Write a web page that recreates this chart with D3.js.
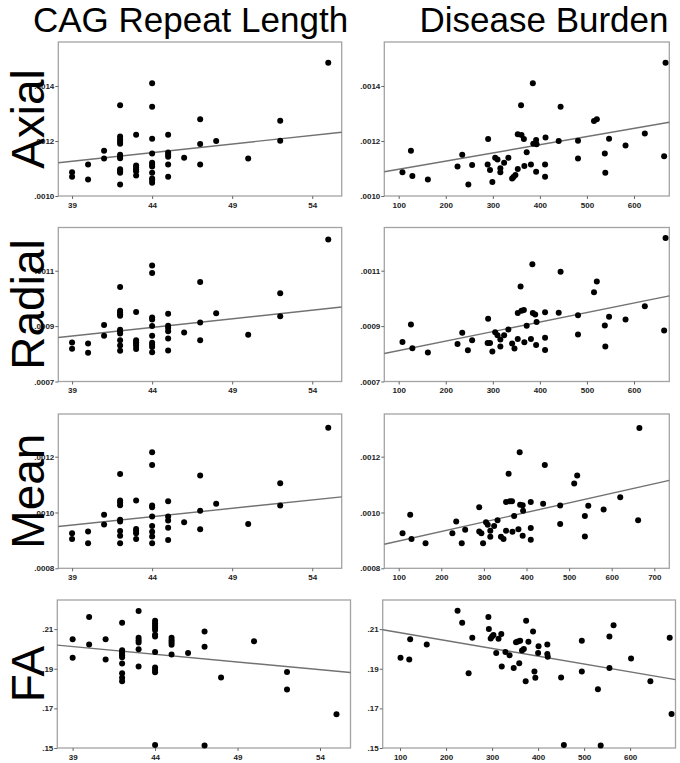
<!DOCTYPE html>
<meta charset="utf-8">
<script src="https://d3js.org/d3.v7.min.js"></script>
<style>
  body { margin: 0; background: #fff; }
  svg { display: block; }
</style>
<div id="chart"></div>
<script>

// column titles and row labels
var colTitles = ["CAG Repeat Length", "Disease Burden"];
var rowLabels = ["Axial", "Radial", "Mean", "FA"];

// tick values
var cagTicks = [39, 44, 49, 54];
var burdenTicks = [100, 200, 300, 400, 500, 600];
var burdenTicksMean = [100, 200, 300, 400, 500, 600, 700];
var axialTicks = [0.0010, 0.0012, 0.0014];
var radialTicks = [0.0007, 0.0009, 0.0011];
var meanTicks = [0.0008, 0.0010, 0.0012];
var faTicks = [0.15, 0.17, 0.19, 0.21];

// scatter data [x, y]
var axialCag = [[39,.001086],[39,.00107],[40,.001115],[40,.00106],[41,.001165],[41,.001136],
  [42,.00133],[42,.001216],[42,.001206],[42,.001198],[42,.00119],[42,.00115],[42,.001143],[42,.001137],
  [42,.001097],[42,.00109],[42,.001085],[42,.001042],
  [43,.001223],[43,.001111],[43,.001104],[43,.001097],[43,.00109],[43,.001075],
  [44,.00141],[44,.001325],[44,.001208],[44,.001155],[44,.001121],[44,.001114],[44,.001107],[44,.001085],
  [44,.001064],[44,.001058],[44,.001048],
  [45,.001223],[45,.001158],[45,.00115],[45,.001143],[45,.001115],[45,.00107],
  [46,.001139],[47,.001279],[47,.001189],[47,.001115],[48,.0012],[50,.001136],[52,.001274],[52,.001201],[55,.001485]];

var axialBurden = [[108,.001086],[126,.001165],[129,.001073],[162,.00106],[225,.001107],[235,.00115],
  [248,.001042],[256,.001113],[289,.001115],[290,.001207],[294,.001095],[299,.001051],[305,.001139],
  [310,.001133],[316,.001101],[316,.001086],[324,.001121],[333,.001139],[341,.001064],[344,.001069],
  [348,.001076],[353,.001098],[353,.001225],[360,.00133],[361,.001222],[366,.001207],[367,.001109],
  [372,.001159],[381,.001115],[385,.00141],[386,.00119],[392,.001204],[393,.001188],[392,.001088],
  [411,.001115],[412,.001213],[411,.00107],[440,.0012],[444,.001325],[481,.001201],[481,.001136],
  [515,.001273],[521,.001279],[538,.001155],[539,.001085],[547,.001208],[582,.001184],[623,.001227],
  [664,.001145],[667,.001485]];

var radialCag = [[39,.000841],[39,.000818],[40,.000837],[40,.000804],[41,.000904],[41,.000865],
  [42,.001041],[42,.000955],[42,.000949],[42,.000943],[42,.000937],[42,.000887],[42,.000881],[42,.000873],
  [42,.000849],[42,.00083],[42,.000811],
  [43,.000951],[43,.000849],[43,.000842],[43,.000835],[43,.000828],[43,.000817],
  [44,.001119],[44,.001092],[44,.000931],[44,.000924],[44,.0009],[44,.000865],[44,.00084],[44,.000833],
  [44,.000825],[44,.000806],
  [45,.000945],[45,.000901],[45,.000893],[45,.000881],[45,.000855],[45,.000812],
  [46,.000877],[47,.001059],[47,.000913],[47,.000849],[48,.000946],[50,.000869],[52,.001019],[52,.000936],[55,.001213]];

var radialBurden = [[108,.000843],[126,.000906],[129,.00082],[162,.000805],[225,.000835],[235,.000876],
  [247,.000813],[256,.000849],[290,.000927],[289,.000839],[294,.000839],[299,.000808],[305,.000878],
  [310,.000867],[316,.000852],[316,.000826],[324,.000867],[333,.000888],[341,.000837],[346,.000819],
  [353,.000947],[353,.000853],[359,.001043],[361,.000955],[366,.000958],[367,.000842],[372,.000901],
  [381,.000853],[384,.001123],[385,.000947],[390,.000942],[393,.000915],[392,.000832],[411,.00095],
  [411,.000858],[411,.000814],[440,.000948],[444,.001096],[481,.000939],[481,.00087],[515,.001022],
  [521,.001061],[538,.000902],[539,.000826],[547,.000934],[582,.000924],[623,.000972],[664,.000884],
  [667,.001218]];

var meanCag = [[39,.000926],[39,.000905],[40,.000932],[40,.00089],[41,.000992],[41,.000957],
  [42,.001138],[42,.001043],[42,.001036],[42,.001026],[42,.000974],[42,.000968],[42,.000934],[42,.000917],[42,.00089],
  [43,.001043],[43,.000941],[43,.000934],[43,.000926],[43,.000905],
  [44,.001216],[44,.00117],[44,.001025],[44,.001019],[44,.000986],[44,.000952],[44,.000931],[44,.000914],[44,.00089],
  [45,.00104],[45,.000986],[45,.000971],[45,.000945],[45,.000901],
  [46,.000965],[47,.001133],[47,.001006],[47,.00094],[48,.001031],[50,.000959],[52,.001105],[52,.001025],[55,.001304]];

var meanBurden = [[109,.000926],[127,.000992],[130,.000905],[163,.00089],[226,.000926],[235,.000968],
  [248,.00089],[256,.000938],[289,.001019],[289,.000932],[294,.000926],[298,.00089],[305,.000965],
  [309,.000956],[315,.000935],[315,.000913],[324,.000952],[332,.000972],[340,.000913],[346,.000905],
  [352,.000935],[352,.001038],[358,.001139],[361,.00104],[366,.00104],[367,.000931],[371,.000987],
  [381,.00094],[384,.001216],[385,.001028],[391,.001026],[392,.001006],[391,.000917],[410,.001038],
  [410,.000944],[410,.000902],[439,.001031],[443,.00117],[479,.001025],[479,.000959],[512,.001104],
  [519,.001133],[537,.000987],[537,.000914],[545,.001024],[581,.001011],[620,.001055],[662,.000972],
  [665,.001303]];

var faCag = [[39,.2049],[39,.1955],[40,.2161],[40,.2022],[41,.2049],[41,.1947],
  [42,.2132],[42,.1994],[42,.1985],[42,.1977],[42,.1968],[42,.1958],[42,.1926],[42,.1877],[42,.1854],[42,.1837],
  [43,.2191],[43,.2056],[43,.2044],[43,.2032],[43,.1999],[43,.1911],
  [44,.2142],[44,.213],[44,.2118],[44,.2107],[44,.2095],[44,.2071],[44,.2063],[44,.1985],[44,.1906],
  [44,.1894],[44,.1882],[44,.1515],
  [45,.2056],[45,.2044],[45,.2032],[45,.2021],[45,.1972],
  [46,.1979],[47,.2088],[47,.2011],[47,.1512],[48,.1856],[50,.2039],[52,.1884],[52,.1795],[55,.167]];

var faBurden = [[101,.1955],[120,.1947],[122,.2049],[158,.2022],[225,.2193],[235,.2132],[249,.1877],
  [257,.2056],[292,.2161],[293,.21],[297,.2053],[300,.2063],[303,.207],[309,.1979],[314,.2051],
  [320,.2076],[321,.1911],[329,.1985],[338,.1968],[347,.1904],[352,.2034],[356,.2038],[361,.2041],
  [359,.1928],[365,.1992],[369,.2],[373,.1837],[374,.2142],[379,.2036],[389,.2088],[392,.1886],
  [394,.1854],[400,.1979],[401,.2014],[420,.2022],[420,.1974],[421,.196],[450,.1856],[456,.1515],
  [495,.2041],[495,.1886],[530,.1797],[536,.1512],[555,.1904],[555,.2063],[564,.212],[602,.1952],
  [644,.1837],[686,.2056],[690,.1672]];

// fitted lines, [[x0, y0], [x1, y1]] at the frame edges
var axialCagFit = [[38.14, .001121], [55.84, .001232]];
var axialBurdenFit = [[69.4, .001088], [675, .001268]];
var radialCagFit = [[38.14, .000859], [55.84, .000969]];
var radialBurdenFit = [[69.4, .000801], [675, .001009]];
var meanCagFit = [[38.14, .00095], [55.84, .001056]];
var meanBurdenFit = [[66.2, .000886], [735.2, .001115]];
var faCagFit = [[38.07, .2019], [55.85, .1881]];
var faBurdenFit = [[62.3, .2097], [698.6, .1845]];

var width = 680, height = 763;

var svg = d3.select("#chart")
  .append("svg")
    .attr("width", width)
    .attr("height", height);

svg.append("rect").attr("width", width).attr("height", height).attr("fill", "#fff");

// frame layout of each row
var rows = [
  {top: 42, bottom: 196, yTicks: axialTicks, yDomain: [0.0010, 0.00156], fmt: ".4f"},
  {top: 227.5, bottom: 381.5, yTicks: radialTicks, yDomain: [0.0007, 0.001256], fmt: ".4f"},
  {top: 414, bottom: 568.3, yTicks: meanTicks, yDomain: [0.0008, 0.001353], fmt: ".4f"},
  {top: 600, bottom: 748, yTicks: faTicks, yDomain: [0.15, 0.2247], fmt: ".2f"}
];

var panels = [
  {row: 0, x0: 58.3, x1: 341.7, xDomain: [38.14, 55.84], xTicks: cagTicks, data: axialCag, fit: axialCagFit},
  {row: 0, x0: 384.3, x1: 669.3, xDomain: [69.4, 675], xTicks: burdenTicks, data: axialBurden, fit: axialBurdenFit},
  {row: 1, x0: 58.3, x1: 341.7, xDomain: [38.14, 55.84], xTicks: cagTicks, data: radialCag, fit: radialCagFit},
  {row: 1, x0: 384.3, x1: 669.3, xDomain: [69.4, 675], xTicks: burdenTicks, data: radialBurden, fit: radialBurdenFit},
  {row: 2, x0: 58.3, x1: 341.7, xDomain: [38.14, 55.84], xTicks: cagTicks, data: meanCag, fit: meanCagFit},
  {row: 2, x0: 384.3, x1: 669.3, xDomain: [66.2, 735.2], xTicks: burdenTicksMean, data: meanBurden, fit: meanBurdenFit},
  {row: 3, x0: 57.3, x1: 350.5, xDomain: [38.07, 55.85], xTicks: cagTicks, data: faCag, fit: faCagFit},
  {row: 3, x0: 382.7, x1: 675.5, xDomain: [62.3, 698.6], xTicks: burdenTicks, data: faBurden, fit: faBurdenFit}
];

var tickFont = "'Liberation Sans', Arial, sans-serif";

panels.forEach(function(p) {
  var r = rows[p.row];
  var x = d3.scaleLinear().domain(p.xDomain).range([p.x0, p.x1]);
  var y = d3.scaleLinear().domain(r.yDomain).range([r.bottom, r.top]);
  var g = svg.append("g");

  // frame
  g.append("rect")
    .attr("x", p.x0).attr("y", r.top)
    .attr("width", p.x1 - p.x0).attr("height", r.bottom - r.top)
    .attr("fill", "#fff")
    .attr("stroke", "#a3a3a3")
    .attr("stroke-width", 1.3);

  var fmt = d3.format(r.fmt);

  // Y axis
  var yAxis = g.append("g")
    .attr("transform", "translate(" + p.x0 + ",0)")
    .call(d3.axisLeft(y).tickValues(r.yTicks).tickSize(3).tickPadding(1)
      .tickFormat(function(d) { return fmt(d).replace(/^0/, ""); }));

  // X axis
  var xAxis = g.append("g")
    .attr("transform", "translate(0," + r.bottom + ")")
    .call(d3.axisBottom(x).tickValues(p.xTicks).tickSize(3).tickPadding(3)
      .tickFormat(d3.format("d")));

  [yAxis, xAxis].forEach(function(a) {
    a.select(".domain").remove();
    a.selectAll(".tick line").attr("stroke", "#666");
    a.selectAll(".tick text")
      .attr("fill", "#222")
      .style("font-family", tickFont)
      .style("font-weight", "bold")
      .style("font-size", "8px");
  });

  // fit line
  g.append("line")
    .attr("x1", x(p.fit[0][0])).attr("y1", y(p.fit[0][1]))
    .attr("x2", x(p.fit[1][0])).attr("y2", y(p.fit[1][1]))
    .attr("stroke", "#727272")
    .attr("stroke-width", 1.4);

  // points
  g.selectAll("circle")
    .data(p.data)
    .enter()
    .append("circle")
      .attr("cx", function(d) { return x(d[0]); })
      .attr("cy", function(d) { return y(d[1]); })
      .attr("r", 3)
      .attr("fill", "#000");
});

// column titles
svg.selectAll(".colTitle")
  .data(colTitles)
  .enter()
  .append("text")
    .attr("class", "colTitle")
    .attr("x", function(d, i) { return i === 0 ? 190.5 : 544; })
    .attr("y", 32)
    .attr("text-anchor", "middle")
    .style("font-family", tickFont)
    .style("font-size", "35px")
    .attr("fill", "#000")
    .text(function(d) { return d; });

// row labels
svg.selectAll(".rowLabel")
  .data(rowLabels)
  .enter()
  .append("text")
    .attr("class", "rowLabel")
    .attr("transform", function(d, i) {
      var r = rows[i];
      return "translate(44," + ((r.top + r.bottom) / 2) + ") rotate(-90)";
    })
    .attr("text-anchor", "middle")
    .style("font-family", tickFont)
    .style("font-size", "46px")
    .attr("fill", "#000")
    .text(function(d) { return d; });

</script>
